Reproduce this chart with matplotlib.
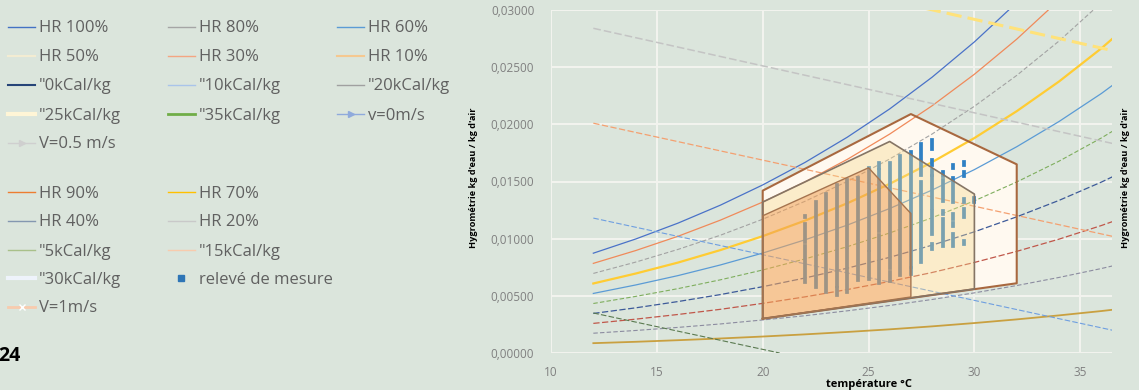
import matplotlib
matplotlib.use("Agg")
import matplotlib.pyplot as plt
from matplotlib.lines import Line2D
from matplotlib.ticker import FuncFormatter, MultipleLocator

plt.rcParams['font.family'] = ['Open Sans', 'DejaVu Sans']

# humidity curves (HR), read at these temperatures
hr_T = [12, 14, 16, 18, 20, 22, 24, 26, 28, 30, 32, 34, 36, 38]
hr100 = [0.00873, 0.00997, 0.01136, 0.01293, 0.01470, 0.01667, 0.01888, 0.02135, 0.02412, 0.02721, 0.03065, 0.03450, 0.03878, 0.04356]
hr90 = [0.00784, 0.00896, 0.01021, 0.01162, 0.01320, 0.01497, 0.01694, 0.01915, 0.02162, 0.02438, 0.02745, 0.03087, 0.03469, 0.03893]
hr80 = [0.00696, 0.00795, 0.00906, 0.01030, 0.01170, 0.01327, 0.01501, 0.01697, 0.01915, 0.02158, 0.02428, 0.02729, 0.03064, 0.03437]
hr70 = [0.00608, 0.00695, 0.00791, 0.00900, 0.01022, 0.01158, 0.01310, 0.01480, 0.01669, 0.01880, 0.02115, 0.02375, 0.02665, 0.02987]
hr60 = [0.00521, 0.00595, 0.00677, 0.00770, 0.00874, 0.00990, 0.01119, 0.01264, 0.01425, 0.01604, 0.01804, 0.02025, 0.02270, 0.02543]
hr50 = [0.00433, 0.00495, 0.00563, 0.00640, 0.00726, 0.00823, 0.00930, 0.01050, 0.01183, 0.01331, 0.01496, 0.01678, 0.01881, 0.02105]
hr40 = [0.00346, 0.00395, 0.00450, 0.00511, 0.00580, 0.00656, 0.00742, 0.00837, 0.00943, 0.01060, 0.01191, 0.01335, 0.01495, 0.01672]
hr30 = [0.00259, 0.00296, 0.00337, 0.00382, 0.00434, 0.00491, 0.00555, 0.00626, 0.00704, 0.00792, 0.00889, 0.00996, 0.01115, 0.01246]
hr20 = [0.00173, 0.00197, 0.00224, 0.00254, 0.00289, 0.00326, 0.00369, 0.00416, 0.00468, 0.00526, 0.00590, 0.00661, 0.00739, 0.00825]
hr10 = [0.00086, 0.00098, 0.00112, 0.00127, 0.00144, 0.00163, 0.00184, 0.00207, 0.00233, 0.00262, 0.00294, 0.00329, 0.00367, 0.00410]

# enthalpy lines (kCal/kg)
h_T = [12, 40]
kcal0 = [-0.0048, -0.0156]
kcal5_T = [12, 20.8]
kcal5 = [0.0035, 0.0]
kcal10 = [0.0118, 0.0006]
kcal15 = [0.0201, 0.0088]
kcal20 = [0.0284, 0.0169]
kcal25 = [0.0367, 0.0250]
kcal30 = [0.0450, 0.0332]
kcal35 = [0.0533, 0.0414]

# comfort zones for air speed
zone_v0_T = [20, 20, 25, 27, 27]
zone_v0_w = [0.0030, 0.0120, 0.0162, 0.0122, 0.0049]
zone_v05_T = [20, 20, 26, 30, 30]
zone_v05_w = [0.0030, 0.0132, 0.0185, 0.0139, 0.0056]
zone_v1_T = [20, 20, 27, 32, 32]
zone_v1_w = [0.0030, 0.0142, 0.0209, 0.0165, 0.0061]

# measurements: ranges of readings per temperature
releve_T = [21.5, 22, 22.5, 23, 23.5, 24, 24.5, 25, 25.5, 26, 26.5, 27, 27.5, 28, 28.5, 29, 29.5, 30]
releve_w = [
    [(0.0079, 0.0079)],
    [(0.0062, 0.0094), (0.0097, 0.0113), (0.0119, 0.0120)],
    [(0.0058, 0.0132)],
    [(0.0053, 0.0139)],
    [(0.0051, 0.0057), (0.0059, 0.0147)],
    [(0.0053, 0.0090), (0.0093, 0.0151)],
    [(0.0064, 0.0097), (0.0100, 0.0153)],
    [(0.0065, 0.0088), (0.0090, 0.0162)],
    [(0.0061, 0.0103), (0.0107, 0.0160), (0.0162, 0.0166)],
    [(0.0063, 0.0071), (0.0074, 0.0166)],
    [(0.0068, 0.0172)],
    [(0.0069, 0.0074), (0.0075, 0.0176)],
    [(0.0080, 0.0150), (0.0156, 0.0183)],
    [(0.0091, 0.0095), (0.0104, 0.0124), (0.0127, 0.0155), (0.0156, 0.0160), (0.0164, 0.0169), (0.0178, 0.0186)],
    [(0.0094, 0.0117), (0.0122, 0.0124), (0.0133, 0.0151), (0.0155, 0.0158)],
    [(0.0094, 0.0104), (0.0111, 0.0114), (0.0117, 0.0122), (0.0132, 0.0153), (0.0162, 0.0164)],
    [(0.0095, 0.0098), (0.0119, 0.0126), (0.0132, 0.0135), (0.0155, 0.0158), (0.0164, 0.0167)],
    [(0.0132, 0.0136)],
]

BG = '#dbe5dc'
W, H = 1139, 390

fig = plt.figure(figsize=(W / 100, H / 100), dpi=100, facecolor=BG)
ax = fig.add_axes([551 / W, 1 - 353 / H, (1112 - 551) / W, (353 - 10) / H])
ax.set_facecolor(BG)

# outer zone under everything else
ax.fill(zone_v1_T, zone_v1_w, color='#fff9f0', zorder=1)

hr_lines = [
    (hr100, '#4a72c8', 0.9, '-'),
    (hr90, '#f08a5a', 0.9, '-'),
    (hr80, '#a3a3a3', 0.8, (0, (4, 2))),
    (hr70, '#ffcc33', 1.6, '-'),
    (hr60, '#5b9bd5', 0.9, '-'),
    (hr50, '#7fae5e', 0.8, (0, (4, 2))),
    (hr40, '#3d5a99', 0.9, (0, (5, 2))),
    (hr30, '#c0574a', 0.9, (0, (5, 2))),
    (hr20, '#8c8ca0', 0.8, (0, (4, 2))),
    (hr10, '#c9a040', 1.3, '-'),
]
for vals, c, lw, ls in hr_lines:
    ax.plot(hr_T, vals, color=c, lw=lw, ls=ls, zorder=2)

h_lines = [
    (h_T, kcal0, '#264478', 1.0),
    (kcal5_T, kcal5, '#5a7a50', 0.8),
    (h_T, kcal10, '#6f9fe0', 0.8),
    (h_T, kcal15, '#f4a070', 0.9),
    (h_T, kcal20, '#c4c4c4', 1.1),
    (h_T, kcal25, '#ffe27a', 2.2),
    (h_T, kcal30, '#eef3fb', 2.2),
    (h_T, kcal35, '#70ad47', 1.6),
]
for t, vals, c, lw in h_lines:
    ax.plot(t, vals, color=c, lw=lw, ls=(0, (5, 2)), zorder=2)

xs, lo, hi = [], [], []
for t, segs in zip(releve_T, releve_w):
    for a, b in segs:
        xs.append(t)
        lo.append(a)
        hi.append(b)
ax.vlines(xs, lo, hi, colors='#2f80c4', linewidth=2.7, capstyle='projecting', zorder=3)

ax.fill(zone_v05_T, zone_v05_w, color='#f5d78e', alpha=0.38, zorder=4, lw=0)
ax.fill(zone_v0_T, zone_v0_w, color='#ed7a2e', alpha=0.32, zorder=5, lw=0)

ax.plot(zone_v1_T + zone_v1_T[:1], zone_v1_w + zone_v1_w[:1], color='#a8683f', lw=1.5, zorder=6)
ax.plot(zone_v05_T + zone_v05_T[:1], zone_v05_w + zone_v05_w[:1], color='#857565', lw=1.2, zorder=6)
ax.plot(zone_v0_T + zone_v0_T[:1], zone_v0_w + zone_v0_w[:1], color='#a5744f', lw=1.0, zorder=6)

ax.set_xlim(10, 36.5)
ax.set_ylim(0, 0.03)
ax.xaxis.set_major_locator(MultipleLocator(5))
ax.yaxis.set_major_locator(MultipleLocator(0.005))
ax.yaxis.set_major_formatter(FuncFormatter(lambda v, p: f"{v:.5f}".replace('.', ',')))
ax.grid(True, color='#f3f4ef', lw=1.4, zorder=0)
ax.set_axisbelow(True)
for s in ax.spines.values():
    s.set_visible(False)
ax.tick_params(length=0, labelsize=8.5, labelcolor='#808080')
ax.tick_params(axis='y', pad=12)
ax.tick_params(axis='x', pad=9)

ylab = "Hygrométrie kg d'eau / kg d'air"
fig.text(473 / W, 1 - 178 / H, ylab, rotation=90, ha='center', va='center',
         fontsize=6.6, fontweight='bold', color='black')
fig.text(1126 / W, 1 - 178 / H, ylab, rotation=90, ha='center', va='center',
         fontsize=6.6, fontweight='bold', color='black')
fig.text(869 / W, 1 - 384 / H, "température °C", ha='center', va='center',
         fontsize=8, fontweight='bold', color='black')
fig.text(21 / W, 1 - 356 / H, "24", ha='right', va='center',
         fontsize=14, fontweight='bold', color='black')

# legend, drawn by hand in figure pixels
leg1 = [
    ("HR 100%", '#4472c4', 1.0, None),
    ("HR 80%", '#a5a5a5', 1.0, None),
    ("HR 60%", '#5b9bd5', 1.0, None),
    ("HR 50%", '#f3ecd2', 1.5, None),
    ("HR 30%", '#f4a582', 1.0, None),
    ("HR 10%", '#f5c890', 1.5, None),
    ('"0kCal/kg', '#264478', 1.5, None),
    ('"10kCal/kg', '#a9c4ea', 1.0, None),
    ('"20kCal/kg', '#a0a0a0', 1.0, None),
    ('"25kCal/kg', '#fff5d6', 3.0, None),
    ('"35kCal/kg', '#70ad47', 2.0, None),
    ("v=0m/s", '#8faadc', 1.0, '>'),
    ("V=0.5 m/s", '#cfcfcf', 1.0, '>'),
]
leg2 = [
    ("HR 90%", '#ed7d31', 1.0, None),
    ("HR 70%", '#ffc000', 1.0, None),
    ("HR 40%", '#8497b0', 1.0, None),
    ("HR 20%", '#c9c9c9', 1.0, None),
    ('"5kCal/kg', '#a9c08a', 1.0, None),
    ('"15kCal/kg', '#f8cbad', 1.0, None),
    ('"30kCal/kg', '#eef3fb', 3.0, None),
    ("relevé de mesure", '#2e75b6', 0, 's'),
    ("V=1m/s", '#f8cbad', 2.0, 'x'),
]


def put_legend(items, cols_x, rows_y):
    ncol = len(cols_x)
    for i, (lab, c, lw, mk) in enumerate(items):
        x0 = cols_x[i % ncol]
        y0 = rows_y[i // ncol]
        fy = 1 - y0 / H
        if lw > 0:
            fig.add_artist(Line2D([x0 / W, (x0 + 27) / W], [fy, fy], color=c, lw=lw,
                                  transform=fig.transFigure))
        if mk is not None:
            mc = 'white' if mk == 'x' else c
            fig.add_artist(Line2D([(x0 + 13.5) / W], [fy], marker=mk, color=mc,
                                  markersize=4 if mk != 's' else 4.5, lw=0,
                                  transform=fig.transFigure))
        fig.text((x0 + 31) / W, fy - 1.5 / H, lab, ha='left', va='center', fontsize=12,
                 color='#606060')


put_legend(leg1, [8, 168, 337], [27, 56, 85, 114, 143])
put_legend(leg2, [8, 168], [192, 221, 250, 278, 307])

fig.savefig("out.png", dpi=100, facecolor=BG)
